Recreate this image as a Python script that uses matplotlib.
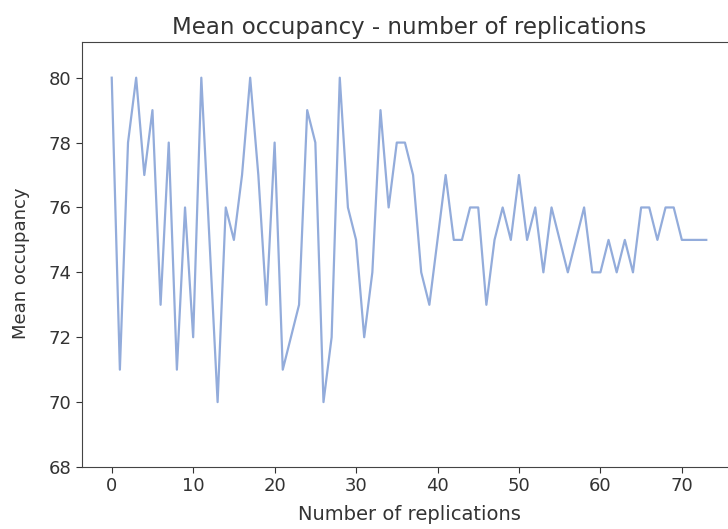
import matplotlib
matplotlib.use("Agg")
import matplotlib.pyplot as plt

# Mean occupancy obtained for each replication count
replications = list(range(74))
mean_occupancy = [
    80, 71, 78, 80, 77, 79, 73, 78, 71, 76,
    72, 80, 75, 70, 76, 75, 77, 80, 77, 73,
    78, 71, 72, 73, 79, 78, 70, 72, 80, 76,
    75, 72, 74, 79, 76, 78, 78, 77, 74, 73,
    75, 77, 75, 75, 76, 76, 73, 75, 76, 75,
    77, 75, 76, 74, 76, 75, 74, 75, 76, 74,
    74, 75, 74, 75, 74, 76, 76, 75, 76, 76,
    75, 75, 75, 75,
]
x_ticks = [0, 10, 20, 30, 40, 50, 60, 70]
y_ticks = [68, 70, 72, 74, 76, 78, 80]

fig = plt.figure(figsize=(7.28, 5.29), dpi=100)
ax = fig.add_axes([82 / 728, 1 - 467 / 529, 654 / 728, (467 - 42) / 529])

ax.plot(replications, mean_occupancy, color="#93acdb", linewidth=1.6)

ax.set_xlim(-3.65, 76.65)
ax.set_ylim(68, 81.1)
ax.set_xticks(x_ticks)
ax.set_yticks(y_ticks)

text_color = "#333333"
ax.tick_params(labelsize=13, colors=text_color, length=4)
for side in ax.spines.values():
    side.set_color("#444444")

ax.set_title("Mean occupancy - number of replications", fontsize=16.5,
             color=text_color, pad=6)
ax.set_xlabel("Number of replications", fontsize=14, color=text_color, labelpad=7)
ax.set_ylabel("Mean occupancy", fontsize=13, color=text_color)
ax.yaxis.set_label_coords(-0.08, 0.48)

fig.savefig("out.png", dpi=100)
